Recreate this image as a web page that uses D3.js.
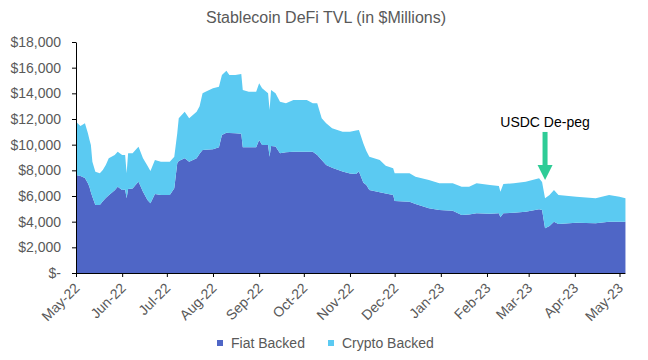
<!DOCTYPE html>
<html>
<head>
<meta charset="utf-8">
<script src="https://cdn.jsdelivr.net/npm/d3@7"></script>
<style>
  html, body { margin: 0; padding: 0; background: #fff; }
  svg { display: block; font-family: "Liberation Sans", Arial, Helvetica, sans-serif; }
</style>
</head>
<body>
<svg id="chart" width="648" height="360"></svg>
<script>
// ---- Data (values in $ millions) ----
const dates = [
  "2022-05-01","2022-05-04","2022-05-07","2022-05-09","2022-05-10","2022-05-11","2022-05-12","2022-05-14",
  "2022-05-17","2022-05-19","2022-05-21","2022-05-23","2022-05-27","2022-05-29","2022-06-01","2022-06-03",
  "2022-06-04","2022-06-05","2022-06-08","2022-06-11","2022-06-12","2022-06-15","2022-06-17","2022-06-18",
  "2022-06-20","2022-06-23","2022-06-27","2022-07-03","2022-07-06","2022-07-08","2022-07-09","2022-07-13",
  "2022-07-16","2022-07-21","2022-07-23","2022-07-25","2022-07-27","2022-08-01","2022-08-05","2022-08-07",
  "2022-08-10","2022-08-12","2022-08-16","2022-08-20","2022-08-21","2022-08-25","2022-08-30","2022-09-01",
  "2022-09-03","2022-09-07","2022-09-08","2022-09-09","2022-09-12","2022-09-15","2022-09-19","2022-09-24",
  "2022-10-03","2022-10-07","2022-10-10","2022-10-13","2022-10-16","2022-10-20","2022-10-27","2022-11-01",
  "2022-11-05","2022-11-07","2022-11-10","2022-11-12","2022-11-14","2022-11-21","2022-11-25","2022-11-30",
  "2022-12-01","2022-12-11","2022-12-15","2022-12-24","2022-12-31","2023-01-09","2023-01-15","2023-01-20",
  "2023-01-25","2023-02-03","2023-02-09","2023-02-10","2023-02-12","2023-02-19","2023-02-27","2023-03-08",
  "2023-03-10","2023-03-12","2023-03-15","2023-03-18","2023-03-21","2023-04-02","2023-04-15","2023-04-24",
  "2023-05-01","2023-05-05"
];
const fiatBacked = [
  7640,7560,7400,7000,6720,6300,5950,5300,
  5300,5600,5850,6050,6450,6720,6470,6500,
  5820,6550,6580,7000,7110,6340,5900,5690,
  5430,6150,6080,6080,6600,8550,8730,8940,
  8670,8940,9300,9580,9600,9640,9790,10750,
  10930,10900,10880,10850,9790,9790,9790,10360,
  9970,9970,9060,9900,9850,9330,9400,9450,
  9450,9450,9190,8800,8420,8200,7900,7750,
  7710,7900,7040,6860,6470,6300,6200,6080,
  5610,5560,5380,5040,4910,4850,4520,4550,
  4650,4620,4650,4340,4650,4700,4780,4960,
  4900,3480,3660,4000,3820,3920,3870,4000,
  4000,4000
];
const cryptoBacked = [
  4150,3890,4260,3890,3680,3670,2720,2590,
  2470,2430,2570,2890,2740,2730,2720,2690,
  1950,2780,2750,2720,2730,2600,2650,2660,
  2520,2650,2590,2590,2460,2340,3320,3630,
  3380,3630,3700,4420,4530,4750,4730,4680,
  4830,4530,4550,4650,4470,4340,4340,4420,
  4420,4030,3640,4360,4150,4020,3820,4030,
  4030,3770,4030,3250,3240,3070,3110,3260,
  3390,3240,3060,2640,2590,2500,2150,2080,
  2160,2210,2120,2210,2080,2150,2200,2170,
  2340,2230,2130,2000,2280,2300,2330,2420,
  2200,2340,2420,2470,2260,2030,1950,2080,
  1950,1820
];
const seriesNames = ["Fiat Backed", "Crypto Backed"];
const seriesColors = ["#4F66C6", "#5BCAF2"];
const yTicks = [0, 2000, 4000, 6000, 8000, 10000, 12000, 14000, 16000, 18000];
const xTickStart = "2022-05-01", xTickEnd = "2023-05-01";
const annotation = { label: "USDC De-peg", date: "2023-03-12", value: 7250 };
const chartTitle = "Stablecoin DeFi TVL (in $Millions)";

// ---- Build table ----
const parse = d3.utcParse("%Y-%m-%d");
const rows = dates.map((d, i) => ({ date: parse(d), "Fiat Backed": fiatBacked[i], "Crypto Backed": cryptoBacked[i] }));

const svg = d3.select("#chart");
const mLeft = 76, mRight = 619.5, mTop = 42, mBottom = 273;

const x = d3.scaleUtc().domain([parse(xTickStart), parse(xTickEnd)]).range([mLeft, mRight]);
const y = d3.scaleLinear().domain([0, 18000]).range([mBottom, mTop]);

const stack = d3.stack().keys(seriesNames);
const layers = stack(rows);

const area = d3.area()
  .x(d => x(d.data.date))
  .y0(d => y(d[0]))
  .y1(d => y(d[1]));

svg.append("g").selectAll("path")
  .data(layers)
  .join("path")
  .attr("fill", (d, i) => seriesColors[i])
  .attr("d", area);

// Title
svg.append("text")
  .attr("x", 326).attr("y", 23)
  .attr("text-anchor", "middle")
  .attr("font-size", 16)
  .attr("fill", "#595959")
  .text(chartTitle);

// Y axis
const yAxis = d3.axisLeft(y)
  .tickValues(yTicks)
  .tickSize(4)
  .tickSizeOuter(0)
  .tickPadding(11)
  .tickFormat(v => v === 0 ? "$-" : "$" + d3.format(",")(v));
const gy = svg.append("g").attr("transform", `translate(${mLeft},0)`).call(yAxis);
gy.selectAll("text").attr("font-size", 14).attr("fill", "#595959").attr("font-family", "Liberation Sans, Arial, sans-serif");
gy.selectAll("line, path").attr("stroke", "#000");

// X axis
const monthTicks = d3.utcMonth.range(parse(xTickStart), d3.utcDay.offset(parse(xTickEnd), 1));
const xAxis = d3.axisBottom(x)
  .tickValues(monthTicks)
  .tickSize(4)
  .tickSizeOuter(0)
  .tickFormat(d3.utcFormat("%b-%y"));
const gx = svg.append("g").attr("transform", `translate(0,${mBottom})`).call(xAxis);
gx.select(".domain").remove();
gx.append("line")
  .attr("x1", x(rows[0].date)).attr("x2", x(rows[rows.length - 1].date))
  .attr("y1", 0.5).attr("y2", 0.5)
  .attr("stroke", "#000");
gx.selectAll("line").attr("stroke", "#000");
gx.selectAll(".tick text")
  .attr("font-size", 14)
  .attr("fill", "#595959")
  .attr("font-family", "Liberation Sans, Arial, sans-serif")
  .attr("text-anchor", "end")
  .attr("dy", null)
  .attr("y", null)
  .attr("transform", "translate(4,16) rotate(-45)");

// Annotation
const ax = x(parse(annotation.date));
const ay = y(annotation.value);
svg.append("text")
  .attr("x", ax).attr("y", ay - 53)
  .attr("text-anchor", "middle")
  .attr("font-size", 14)
  .attr("fill", "#000")
  .text(annotation.label);
svg.append("rect")
  .attr("x", ax - 2.5).attr("y", ay - 48)
  .attr("width", 5).attr("height", 34)
  .attr("fill", "#2ECC96");
svg.append("path")
  .attr("d", `M${ax - 7.5},${ay - 15} L${ax + 7.5},${ay - 15} L${ax},${ay} Z`)
  .attr("fill", "#2ECC96");

// Legend
const legend = svg.append("g");
const legendX = [217, 328];
seriesNames.forEach((name, i) => {
  legend.append("rect")
    .attr("x", legendX[i]).attr("y", 340)
    .attr("width", 6).attr("height", 6)
    .attr("fill", seriesColors[i]);
  legend.append("text")
    .attr("x", legendX[i] + 14).attr("y", 348)
    .attr("font-size", 14)
    .attr("fill", "#595959")
    .text(name);
});
</script>
</body>
</html>
